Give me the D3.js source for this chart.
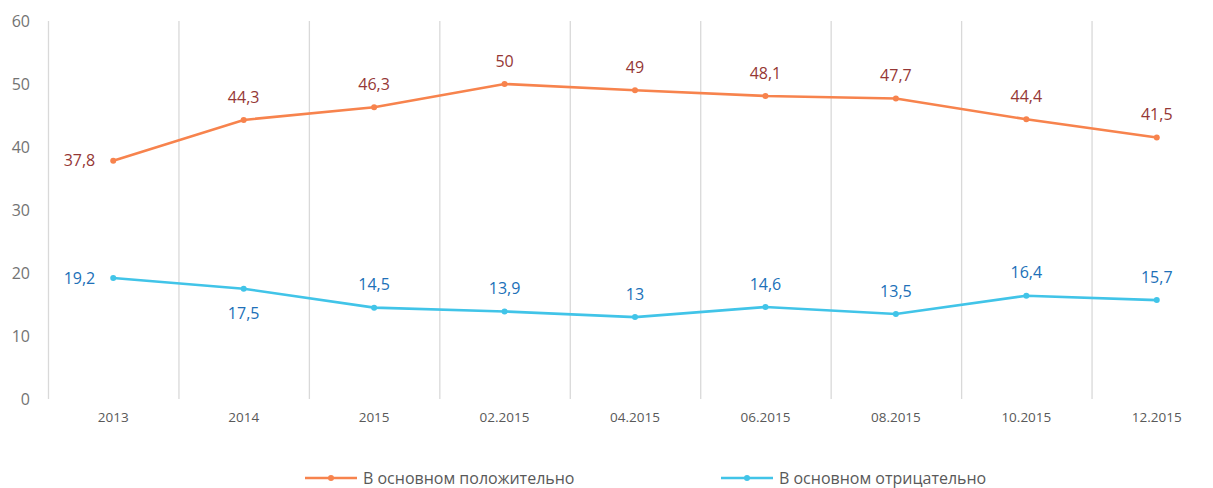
<!DOCTYPE html>
<html>
<head>
<meta charset="utf-8">
<script src="https://cdn.jsdelivr.net/npm/d3@7"></script>
<style>
  body { margin: 0; background: #fff; }
  text { font-family: "Open Sans", "Noto Sans", sans-serif; }
</style>
</head>
<body>
<div id="chart"></div>
<script>
const categories = ["2013", "2014", "2015", "02.2015", "04.2015", "06.2015", "08.2015", "10.2015", "12.2015"];
const positive = [37.8, 44.3, 46.3, 50, 49, 48.1, 47.7, 44.4, 41.5];
const negative = [19.2, 17.5, 14.5, 13.9, 13, 14.6, 13.5, 16.4, 15.7];
const seriesNames = ["В основном положительно", "В основном отрицательно"];
const yTicks = [0, 10, 20, 30, 40, 50, 60];
// label placement per point: l = left, a = above, b = below
const posPlace = ["l", "a", "a", "a", "a", "a", "a", "a", "a"];
const negPlace = ["l", "b", "a", "a", "a", "a", "a", "a", "a"];

const width = 1213, height = 488;
const margin = {top: 21, right: -9, bottom: 89, left: 48};

const svg = d3.select("#chart").append("svg")
  .attr("width", width)
  .attr("height", height);

const x = d3.scaleBand()
  .domain(categories)
  .range([margin.left, width - margin.right]);

const y = d3.scaleLinear()
  .domain([0, 60])
  .range([height - margin.bottom, margin.top]);

// vertical category separators
svg.append("g")
  .selectAll("line")
  .data(categories)
  .join("line")
  .attr("x1", d => x(d) + 0.5)
  .attr("x2", d => x(d) + 0.5)
  .attr("y1", y(60))
  .attr("y2", y(0))
  .attr("stroke", "#d9d9d9")
  .attr("stroke-width", 1.3);

// y axis labels
svg.append("g")
  .selectAll("text")
  .data(yTicks)
  .join("text")
  .attr("x", 30)
  .attr("y", d => y(d))
  .attr("dy", "0.35em")
  .attr("text-anchor", "end")
  .attr("fill", "#737373")
  .attr("font-size", 16)
  .text(d => d);

// x axis labels
svg.append("g")
  .selectAll("text")
  .data(categories)
  .join("text")
  .attr("x", d => x(d) + x.bandwidth() / 2)
  .attr("y", y(0) + 23)
  .attr("text-anchor", "middle")
  .attr("fill", "#595959")
  .attr("font-size", 13.5)
  .text(d => d);

const series = [
  {name: seriesNames[0], values: positive, place: posPlace, line: "#f7834d", label: "#953735"},
  {name: seriesNames[1], values: negative, place: negPlace, line: "#41c4e8", label: "#2070b8"}
];

const line = d3.line()
  .x((d, i) => x(categories[i]) + x.bandwidth() / 2)
  .y(d => y(d));

series.forEach(s => {
  const g = svg.append("g");
  g.append("path")
    .datum(s.values)
    .attr("fill", "none")
    .attr("stroke", s.line)
    .attr("stroke-width", 2.6)
    .attr("d", line);

  g.selectAll("circle")
    .data(s.values)
    .join("circle")
    .attr("cx", (d, i) => x(categories[i]) + x.bandwidth() / 2)
    .attr("cy", d => y(d))
    .attr("r", 3)
    .attr("fill", s.line);

  g.selectAll("text")
    .data(s.values)
    .join("text")
    .attr("x", (d, i) => {
      const cx = x(categories[i]) + x.bandwidth() / 2;
      return s.place[i] === "l" ? cx - 18 : cx;
    })
    .attr("y", (d, i) => {
      const p = s.place[i];
      if (p === "l") return y(d);
      if (p === "b") return y(d) + 25;
      return y(d) - 23;
    })
    .attr("dy", "0.35em")
    .attr("text-anchor", (d, i) => s.place[i] === "l" ? "end" : "middle")
    .attr("fill", s.label)
    .attr("font-size", 16)
    .text(d => String(d).replace(".", ","));
});

// legend
const legendX = [305, 721];
const legend = svg.append("g")
  .selectAll("g")
  .data(series)
  .join("g")
  .attr("transform", (d, i) => `translate(${legendX[i]},478)`);

legend.append("line")
  .attr("x1", 0).attr("x2", 52)
  .attr("stroke", d => d.line)
  .attr("stroke-width", 2.6);
legend.append("circle")
  .attr("cx", 26)
  .attr("r", 3)
  .attr("fill", d => d.line);
legend.append("text")
  .attr("x", 58)
  .attr("dy", "0.35em")
  .attr("fill", "#595959")
  .attr("font-size", 16)
  .text(d => d.name);
</script>
</body>
</html>
